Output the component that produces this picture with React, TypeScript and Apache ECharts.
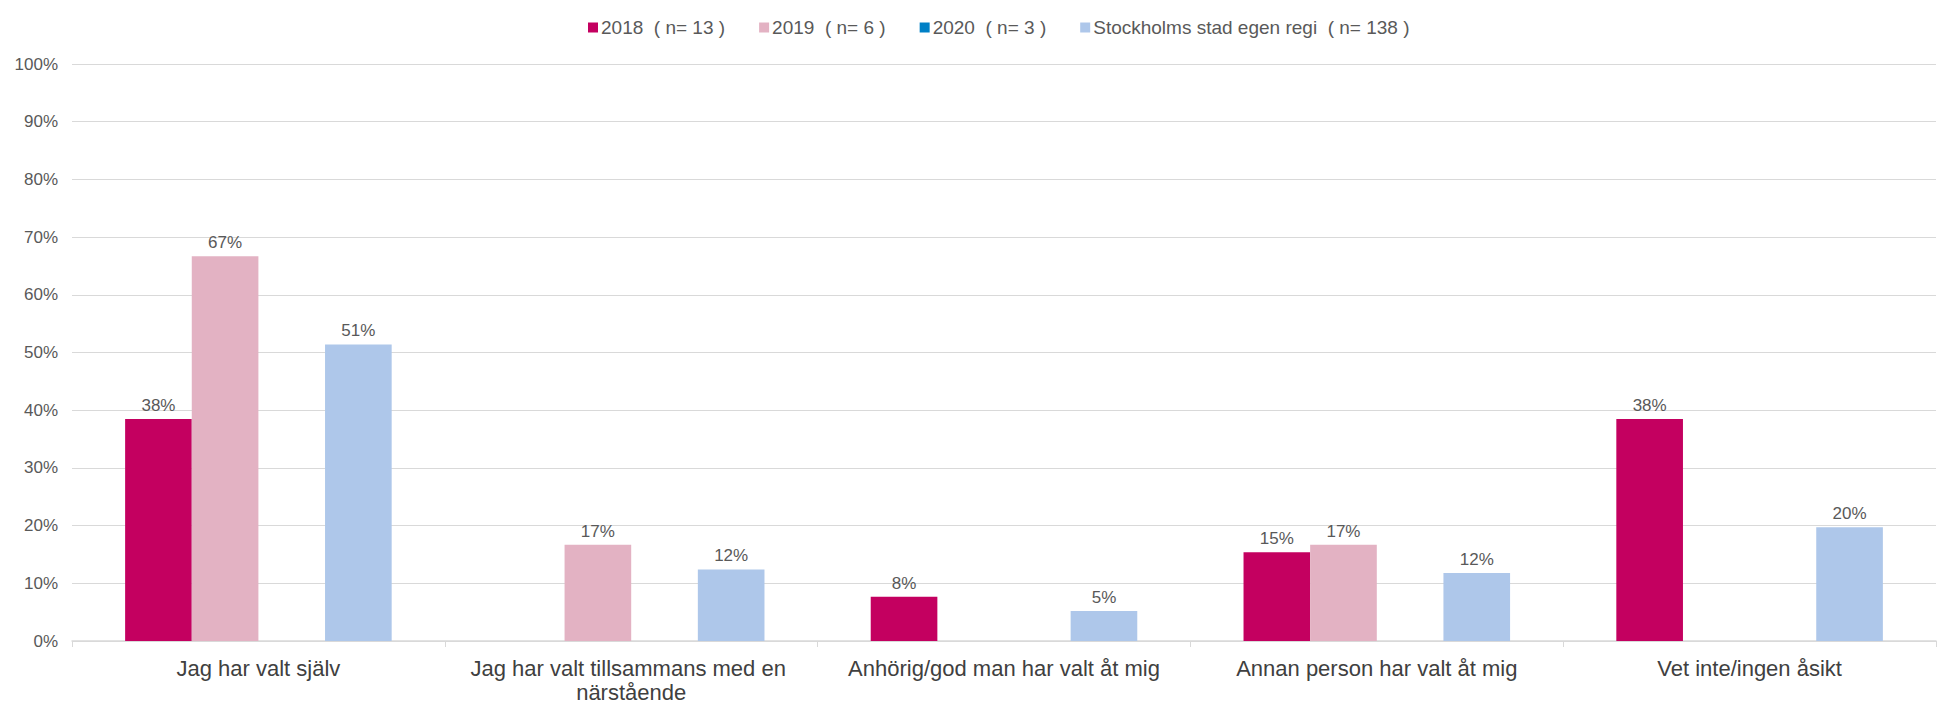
import React, { useEffect, useRef } from "react";
import * as echarts from "echarts";

const categories = [
  "Jag har valt själv",
  "Jag har valt tillsammans med en närstående",
  "Anhörig/god man har valt åt mig",
  "Annan person har valt åt mig",
  "Vet inte/ingen åsikt",
];

const seriesNames = [
  "2018  ( n= 13 )",
  "2019  ( n= 6 )",
  "2020  ( n= 3 )",
  "Stockholms stad egen regi  ( n= 138 )",
];

const values2018 = [38.46, null, 7.69, 15.38, 38.46];
const values2019 = [66.67, 16.67, null, 16.67, null];
const values2020 = [null, null, null, null, null];
const valuesStockholm = [51.4, 12.4, 5.2, 11.8, 19.7];

const yTicks = { min: 0, max: 100, interval: 10 };

const colors = ["#C40060", "#E3B2C3", "#0080C6", "#AEC7EA"];

const FONT = 'Arial, "Liberation Sans", sans-serif';
const TEXT = "#595959";

export default function App() {
  const ref = useRef<HTMLDivElement>(null);

  useEffect(() => {
    if (!ref.current) return;
    const chart = echarts.init(ref.current, undefined, { renderer: "svg" });
    const allValues = [values2018, values2019, values2020, valuesStockholm];
    chart.setOption({
      animation: false,
      color: colors,
      textStyle: { fontFamily: FONT, color: TEXT },
      legend: {
        left: 583,
        top: 13,
        itemWidth: 10,
        itemHeight: 10,
        itemGap: 34,
        icon: "rect",
        textStyle: { fontFamily: FONT, fontSize: 19, color: TEXT, padding: [0, 0, 0, -2] },
        data: seriesNames,
      },
      grid: { left: 72, top: 64, width: 1885, height: 581.3, containLabel: false },
      xAxis: {
        type: "category",
        data: categories,
        axisLine: { lineStyle: { color: "#D9D9D9", width: 1.5 } },
        axisTick: { show: true, alignWithLabel: false, length: 6, lineStyle: { color: "#D9D9D9" } },
        axisLabel: {
          interval: 0,
          fontFamily: FONT,
          fontSize: 22,
          color: "#404040",
          margin: 15,
          lineHeight: 24,
          width: 377,
          overflow: "break",
        },
      },
      yAxis: {
        type: "value",
        min: yTicks.min,
        max: yTicks.max,
        interval: yTicks.interval,
        axisLine: { show: false },
        axisTick: { show: false },
        splitLine: { lineStyle: { color: "#D9D9D9", width: 1.2 } },
        axisLabel: {
          formatter: "{value}%",
          fontFamily: FONT,
          fontSize: 17,
          color: TEXT,
          margin: 14,
        },
      },
      series: seriesNames.map((name, i) => ({
        name,
        type: "bar",
        data: allValues[i],
        barGap: "0%",
        barCategoryGap: "28.5%",
        itemStyle: { color: colors[i] },
        label: {
          show: true,
          position: "top",
          distance: 5,
          fontFamily: FONT,
          fontSize: 17,
          color: TEXT,
          formatter: (p: any) => (p.value == null ? "" : Math.round(p.value) + "%"),
        },
      })),
    });
    return () => chart.dispose();
  }, []);

  return (
    <div
      ref={ref}
      style={{ position: "absolute", left: 0, top: 0, width: 1939, height: 704, background: "#fff" }}
    />
  );
}
